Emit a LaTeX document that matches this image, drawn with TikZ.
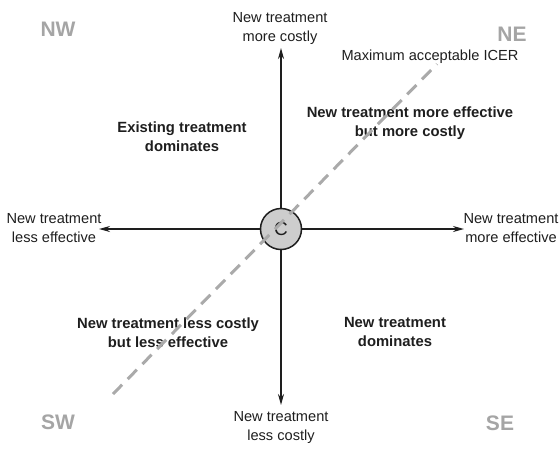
\documentclass[tikz,border=0pt]{standalone}
\usepackage{fontspec}
\setmainfont{Liberation Sans}
\usetikzlibrary{arrows.meta}
\definecolor{ink}{RGB}{30,30,30}
\definecolor{compass}{RGB}{165,165,165}
\definecolor{dashgray}{RGB}{170,170,170}
\definecolor{circfill}{RGB}{205,205,205}
\begin{document}
\begin{tikzpicture}[x=1pt,y=-1pt,
  lbl/.style={align=center,text=ink,font=\fontsize{14.6}{19}\selectfont,inner sep=0pt},
  blbl/.style={align=center,text=ink,font=\fontsize{14.8}{19}\selectfont\bfseries,inner sep=0pt},
  cmp/.style={text=compass,font=\fontsize{21}{22}\selectfont\bfseries,inner sep=0pt},
  axis/.style={draw=ink,line width=1.5pt,-{Stealth[length=11pt,width=6pt]}},
  icer/.style={draw=dashgray,line width=3pt,dash pattern=on 13pt off 8pt},
  origin/.style={circle,draw=ink,line width=1.5pt,fill=circfill,minimum size=41pt,inner sep=0pt,text=ink,font=\fontsize{19}{19}\selectfont}]
\useasboundingbox (0,0) rectangle (560,448);
% axes end points
\coordinate (top) at (281,48);
\coordinate (bot) at (281,405);
\coordinate (lft) at (99,229);
\coordinate (rgt) at (464,229);
\coordinate (d1) at (113,394);
\coordinate (d2) at (437,64);
\node[origin] (C) at (281,229) {C};
\draw[axis] (C) -- (top);
\draw[axis] (C) -- (bot);
\draw[axis] (C) -- (lft);
\draw[axis] (C) -- (rgt);
% axis labels
\node[lbl] (tl) at (280,28) {New treatment\\more costly};
\node[lbl] (bl) at (281,427) {New treatment\\less costly};
\node[lbl] (ll) at (54,228) {New treatment\\less effective};
\node[lbl] (rl) at (511,228) {New treatment\\more effective};
% compass labels
\node[cmp] (nw) at (58,29) {NW};
\node[cmp] (ne) at (512,34) {NE};
\node[cmp] (sw) at (58,422) {SW};
\node[cmp] (se) at (500,423) {SE};
% quadrant texts
\node[blbl] (q1) at (182,137) {Existing treatment\\dominates};
\node[blbl] (q2) at (410,123) {New treatment more effective\\but more costly};
\node[blbl] (q3) at (168,333) {New treatment less costly\\but less effective};
\node[blbl] (q4) at (395,332) {New treatment\\dominates};
\node[lbl] (mx) at (430,57) {Maximum acceptable ICER};
% threshold line
\draw[icer] (d1) -- (d2);
\end{tikzpicture}
\end{document}
